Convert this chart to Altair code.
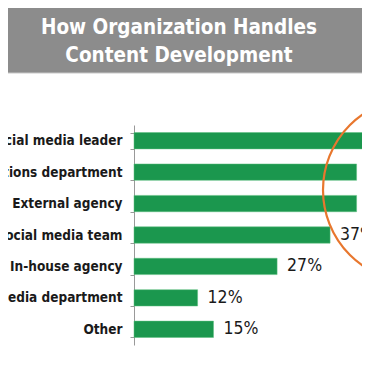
import altair as alt
import pandas as pd

categories = [
    "Dedicated social media leader",
    "Public relations department",
    "External agency",
    "Dedicated social media team",
    "In-house agency",
    "Media department",
    "Other",
]
values = [44, 42, 42, 37, 27, 12, 15]
title_lines = "How Organization Handles\nContent Development"

df = pd.DataFrame({"category": categories, "value": values})
df["label"] = [f"{v}%" for v in values]

FONT = "DejaVu Sans Condensed, sans-serif"
GREEN = "#1b974e"

y_enc = alt.Y(
    "category:N",
    sort=categories,
    scale=alt.Scale(paddingInner=0.48, paddingOuter=0.24),
    axis=alt.Axis(
        title=None,
        labelFont=FONT,
        labelFontSize=13.5,
        labelFontWeight="bold",
        labelColor="#1a1a1a",
        labelPadding=8,
        tickBand="extent",
        tickSize=4,
        tickColor="#999999",
        domainColor="#999999",
        labelLimit=400,
    ),
)
x_scale = alt.Scale(domain=[0, 43.02], nice=False, zero=True)

base = alt.Chart(df)

bars = base.mark_bar(color=GREEN, stroke="#5cbf7f", strokeWidth=0.5).encode(
    y=y_enc,
    x=alt.X("value:Q", scale=x_scale, axis=None),
)

labels = base.mark_text(
    align="left", baseline="middle", dx=10, font=FONT, fontSize=17.5, color="#1a1a1a"
).encode(
    y=alt.Y("category:N", sort=categories),
    x=alt.X("value:Q", scale=x_scale),
    text="label:N",
)

one = alt.Data(values=[{"t": title_lines}])

bg = alt.Chart(one).mark_rect(color="#8c8c8c", stroke="#c8c8c8", strokeWidth=1).encode(
    x=alt.value(-140),
    x2=alt.value(240),
    y=alt.value(-118),
    y2=alt.value(-52),
)

title = alt.Chart(one).mark_text(
    align="center",
    baseline="alphabetic",
    lineBreak="\n",
    lineHeight=28,
    font=FONT,
    fontSize=20.5,
    fontWeight="bold",
    color="white",
).encode(x=alt.value(45), y=alt.value(-91), text="t:N")

ring = alt.Chart(one).mark_point(
    shape="circle", size=33856, filled=False, color="#e8772e", strokeWidth=2.2, opacity=1
).encode(x=alt.value(281), y=alt.value(65))

chart = (
    alt.layer(bg, title, bars, labels, ring)
    .properties(
        width=228,
        height=220,
        padding={"left": 126, "top": 117, "right": 0, "bottom": 4},
        autosize=alt.AutoSizeParams(type="none"),
        background="white",
    )
    .configure_view(stroke=None)
)

chart.save("out.html", embed_options={"renderer": "svg", "actions": False})
